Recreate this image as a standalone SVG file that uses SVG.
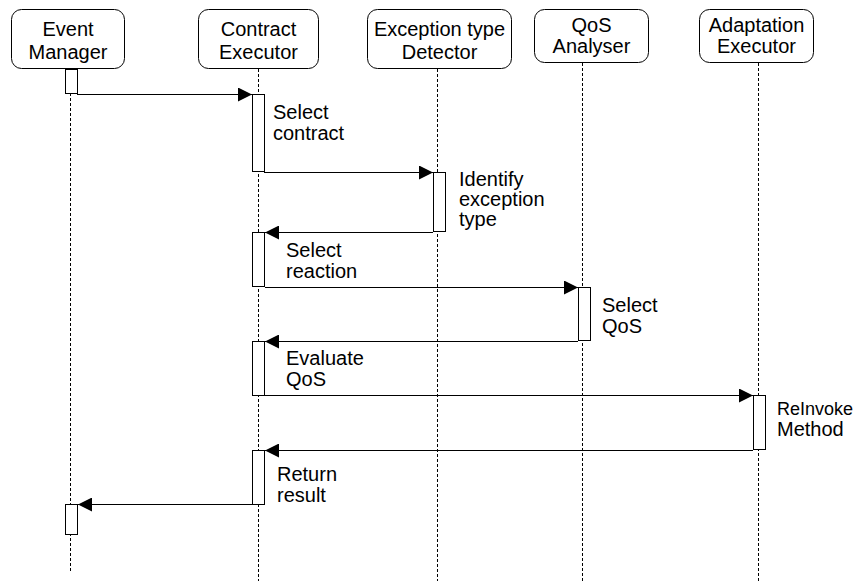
<svg xmlns="http://www.w3.org/2000/svg" width="859" height="581" viewBox="0 0 859 581">
<style>
.head{fill:#fff;stroke:#000;stroke-width:1}
.ht{font-family:"Liberation Sans",Arial,sans-serif;font-size:20px;fill:#000;text-anchor:middle}
.lbl{font-family:"Liberation Sans",Arial,sans-serif;font-size:20px;fill:#000}
.life{stroke:#000;stroke-width:1;stroke-dasharray:3 2;fill:none}
.act{fill:#fff;stroke:#000;stroke-width:1}
.msg{stroke:#000;stroke-width:1;fill:none}
</style>
<defs>
<marker id="ah" markerWidth="14" markerHeight="14" viewBox="0 0 14 14" refX="14" refY="7" orient="auto" markerUnits="userSpaceOnUse">
<path d="M0,0 L14,7 L0,14 Z" fill="#000"/>
</marker>
</defs>
<rect width="859" height="581" fill="#fff"/>
<g id="lifelines">
<line class="life" x1="70.5" y1="93" x2="70.5" y2="571"/>
<line class="life" x1="258.5" y1="69" x2="258.5" y2="581"/>
<line class="life" x1="437.5" y1="69" x2="437.5" y2="581"/>
<line class="life" x1="582.5" y1="63" x2="582.5" y2="581"/>
<line class="life" x1="758.5" y1="63" x2="758.5" y2="581"/>
</g>
<g id="event-manager">
<rect class="head" x="11.5" y="9.5" width="113" height="59" rx="10"/>
<text class="ht" x="68" y="36">Event</text>
<text class="ht" x="68" y="59">Manager</text>
<rect class="act" x="65.5" y="69.5" width="12" height="24"/>
<rect class="act" x="65.5" y="504.5" width="12" height="30"/>
</g>
<g id="contract-executor">
<rect class="head" x="198.5" y="9.5" width="120" height="59" rx="10"/>
<text class="ht" x="258.5" y="36">Contract</text>
<text class="ht" x="258.5" y="59">Executor</text>
<rect class="act" x="252.5" y="94.5" width="12" height="77"/>
<rect class="act" x="252.5" y="232.5" width="12" height="54"/>
<rect class="act" x="252.5" y="341.5" width="12" height="54"/>
<rect class="act" x="252.5" y="450.5" width="12" height="54"/>
</g>
<g id="exception-type-detector">
<rect class="head" x="367.5" y="9.5" width="144" height="59" rx="10"/>
<text class="ht" x="439.5" y="36">Exception type</text>
<text class="ht" x="439.5" y="59">Detector</text>
<rect class="act" x="433.5" y="172.5" width="12" height="59"/>
</g>
<g id="qos-analyser">
<rect class="head" x="534.5" y="9.5" width="114" height="53" rx="10"/>
<text class="ht" x="591.5" y="32">QoS</text>
<text class="ht" x="591.5" y="53">Analyser</text>
<rect class="act" x="578.5" y="287.5" width="12" height="53"/>
</g>
<g id="adaptation-executor">
<rect class="head" x="699.5" y="9.5" width="114" height="53" rx="10"/>
<text class="ht" x="756.5" y="32">Adaptation</text>
<text class="ht" x="756.5" y="53">Executor</text>
<rect class="act" x="753.5" y="395.5" width="12" height="54"/>
</g>
<g id="connectors">
<line class="msg" x1="77" y1="94.5" x2="252" y2="94.5" marker-end="url(#ah)"/>
<line class="msg" x1="264" y1="172.5" x2="433" y2="172.5" marker-end="url(#ah)"/>
<line class="msg" x1="433" y1="232.5" x2="265" y2="232.5" marker-end="url(#ah)"/>
<line class="msg" x1="265" y1="287.5" x2="578" y2="287.5" marker-end="url(#ah)"/>
<line class="msg" x1="578" y1="341.5" x2="265" y2="341.5" marker-end="url(#ah)"/>
<line class="msg" x1="265" y1="395.5" x2="753" y2="395.5" marker-end="url(#ah)"/>
<line class="msg" x1="753" y1="450.5" x2="265" y2="450.5" marker-end="url(#ah)"/>
<line class="msg" x1="252" y1="504.5" x2="78" y2="504.5" marker-end="url(#ah)"/>
</g>
<g id="labels">
<text class="lbl" x="273" y="119">Select</text>
<text class="lbl" x="273" y="140">contract</text>
<text class="lbl" x="459" y="186">Identify</text>
<text class="lbl" x="459" y="206">exception</text>
<text class="lbl" x="459" y="226">type</text>
<text class="lbl" x="286" y="257">Select</text>
<text class="lbl" x="286" y="278">reaction</text>
<text class="lbl" x="602" y="312">Select</text>
<text class="lbl" x="602" y="333">QoS</text>
<text class="lbl" x="286" y="365">Evaluate</text>
<text class="lbl" x="286" y="386">QoS</text>
<text class="lbl" x="777" y="415" style="font-size:18px">ReInvoke</text>
<text class="lbl" x="777" y="436">Method</text>
<text class="lbl" x="277" y="481">Return</text>
<text class="lbl" x="277" y="502">result</text>
</g>
</svg>
